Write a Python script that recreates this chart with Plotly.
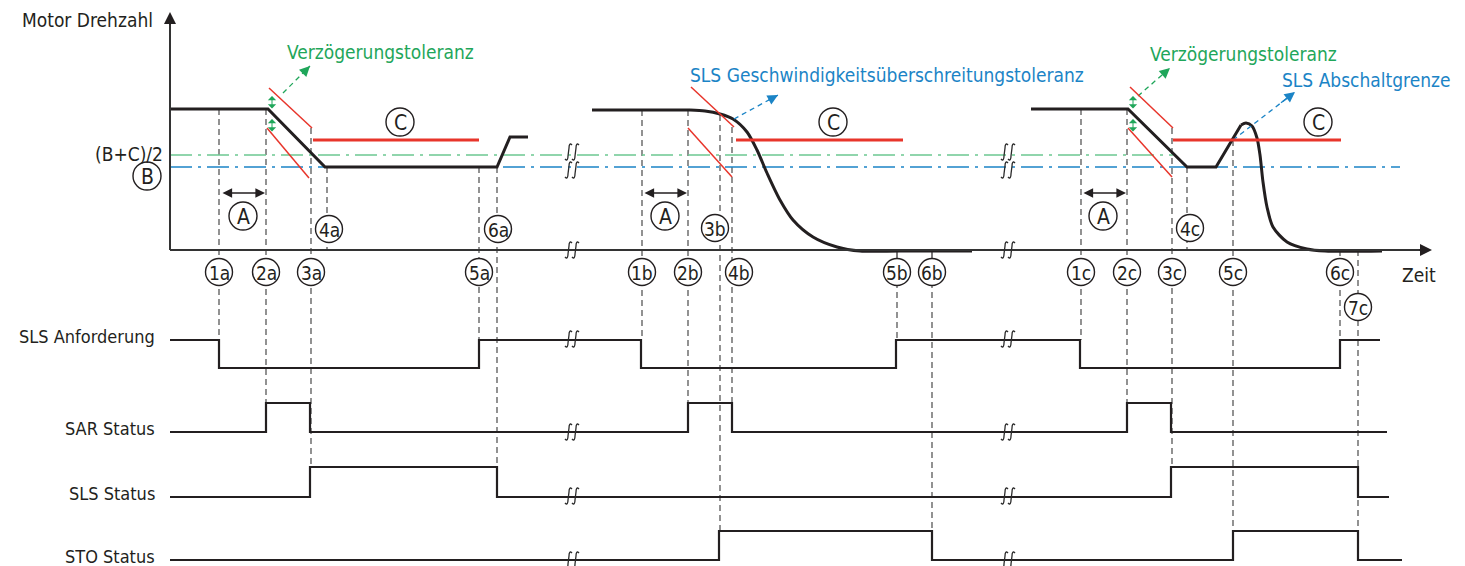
import plotly.graph_objects as go

FONT = "DejaVu Sans Condensed, Liberation Sans Narrow, sans-serif"
BLACK = "#231f20"
RED = "#e8352b"
GREEN = "#1fa65a"
GREEN_LINE = "#6cc891"
BLUE = "#1b84c6"
DASH_GRAY = "#4a4a4a"

# ---- time axis (schematic units) ----
x_axis_start, x_axis_end = 170, 1432
y_axis_top = 12
zero_row = 250
break_x = [572, 1008]

# ---- speed levels ----
level_bc = 155      # (B+C)/2
level_b = 167       # B
level_c = 140       # C (SLS limit)

# ---- speed curves ----
speed_a_t = [170, 268, 325, 497, 510, 528]
speed_a_v = [109, 109, 167, 167, 137, 137]

speed_b_flat_t = [592, 690]
speed_b_flat_v = [110, 110]
speed_b_t = [690, 705, 720, 733, 747, 757, 767, 780, 793, 813, 837, 860, 900, 972]
speed_b_v = [110, 111, 114, 119, 132, 150, 173, 200, 220, 237, 247, 251, 251, 251]

speed_c_t = [1031, 1128, 1187, 1216, 1241]
speed_c_v = [109, 109, 167, 167, 125]
speed_c_drop_t = [1241, 1246, 1252, 1257, 1260, 1263, 1267, 1273, 1287, 1307, 1325, 1382]
speed_c_drop_v = [125, 123, 126, 138, 155, 182, 207, 227, 242, 249, 251, 251]

# C limit segments (start, end)
c_limit_a = [313, 479]
c_limit_b = [736, 903]
c_limit_c = [1173, 1341]

# deceleration tolerance bands: (t0, v0, t1, v1)
tol_a = [(269, 88, 312, 128), (267, 128, 309, 178)]
tol_b = [(691, 87, 734, 127), (688, 128, 732, 177)]
tol_c = [(1130, 87, 1173, 128), (1128, 128, 1172, 177)]

# ---- events ----
event_labels = ["1a", "2a", "3a", "4a", "5a", "6a",
                "1b", "2b", "3b", "4b", "5b", "6b",
                "1c", "2c", "3c", "4c", "5c", "6c", "7c"]
event_t = [219, 266, 311, 327, 479, 497,
           642, 688, 720, 732, 897, 932,
           1081, 1127, 1172, 1187, 1233, 1340, 1358]
event_top = [109, 109, 128, 167, 167, 167,
             110, 110, 115, 127, 262, 262,
             109, 109, 128, 167, 140, 250, 250]
event_bottom = [340, 403, 467, 250, 340, 467,
                340, 403, 531, 403, 340, 531,
                340, 403, 467, 250, 531, 340, 531]
label_t = [219, 266, 311, 329, 479, 498,
           642, 688, 715, 739, 897, 932,
           1081, 1127, 1172, 1190, 1233, 1340, 1358]
label_row = [272, 272, 272, 229, 272, 229,
             272, 272, 228, 272, 272, 272,
             272, 272, 272, 228, 272, 272, 307]

# ---- signals ----
signal_names = ["SLS Anforderung", "SAR Status", "SLS Status", "STO Status"]
signal_low_row = [368, 432, 497, 560]
signal_height = [28, 29, 30, 29]
sls_req_t = [170, 219, 479, 641, 896, 1080, 1340, 1380]
sls_req_v = [1, 0, 1, 0, 1, 0, 1, 1]
sar_t = [170, 266, 310, 688, 732, 1127, 1171, 1387]
sar_v = [0, 1, 0, 1, 0, 1, 0, 0]
sls_t = [170, 310, 497, 1171, 1358, 1389]
sls_v = [0, 1, 0, 1, 0, 0]
sto_t = [170, 719, 932, 1233, 1358, 1402]
sto_v = [0, 1, 0, 1, 0, 0]
signals_t = [sls_req_t, sar_t, sls_t, sto_t]
signals_v = [sls_req_v, sar_v, sls_v, sto_v]

fig = go.Figure()
shapes = []
annotations = []


def line(x0, y0, x1, y1, color, width, dash="solid", layer="above"):
    shapes.append(dict(type="line", x0=x0, y0=y0, x1=x1, y1=y1, xref="x", yref="y",
                       line=dict(color=color, width=width, dash=dash), layer=layer))


def arrow(x, y, ax, ay, color, width=1.5, size=1.2, head=2, both=False):
    annotations.append(dict(x=x, y=y, ax=ax, ay=ay, xref="x", yref="y", axref="x", ayref="y",
                            text="", showarrow=True, arrowhead=head, startarrowhead=head,
                            arrowside="end+start" if both else "end",
                            arrowsize=size, startarrowsize=size,
                            arrowwidth=width, arrowcolor=color))


def text(x, y, s, color=BLACK, size=19, anchor="center"):
    annotations.append(dict(x=x, y=y, xref="x", yref="y", text=s, showarrow=False,
                            xanchor=anchor, yanchor="middle",
                            font=dict(family=FONT, size=size, color=color)))


def circled(x, y, s, r=13.5, size=19):
    shapes.append(dict(type="circle", x0=x - r, x1=x + r, y0=y - r, y1=y + r,
                       xref="x", yref="y", fillcolor="white",
                       line=dict(color=BLACK, width=1.4), layer="above"))
    text(x, y + 0.5, s, size=size)


def break_mark(x, y, h=8):
    for dx in (-3.5, 3.5):
        cx = x + dx
        p = (f"M {cx + 3.5},{y - h + 1} C {cx + 1.5},{y - h - 1.5} {cx + 0.5},{y - h + 1} {cx + 0.5},{y - h + 4} "
             f"L {cx - 0.5},{y + h - 4} C {cx - 0.5},{y + h - 1} {cx - 1.5},{y + h + 1.5} {cx - 3.5},{y + h - 1}")
        shapes.append(dict(type="path", path=p, xref="x", yref="y",
                           line=dict(color="#2a2a2a", width=1.3), layer="above"))


# dash-dot reference lines
fig.add_trace(go.Scatter(x=[x_axis_start, 1173], y=[level_bc, level_bc], mode="lines",
                         line=dict(color=GREEN_LINE, width=1.5, dash="22px,6px,3px,6px")))
fig.add_trace(go.Scatter(x=[x_axis_start, 1400], y=[level_b, level_b], mode="lines",
                         line=dict(color=BLUE, width=1.3, dash="22px,6px,3px,6px")))

# event dashed verticals
for t, y0, y1 in zip(event_t, event_top, event_bottom):
    line(t, y0, t, y1, DASH_GRAY, 1.2, dash="6px,4px", layer="below")
for t in (897, 932):
    line(t, zero_row, t, 262, BLACK, 1.2)

# axes
line(x_axis_start, zero_row, x_axis_end - 8, zero_row, "#333333", 2)
line(x_axis_start, zero_row, x_axis_start, y_axis_top + 8, "#333333", 2)
arrow(x_axis_end, zero_row, x_axis_end - 14, zero_row, BLACK, width=2, size=1.2)
arrow(x_axis_start, y_axis_top, x_axis_start, y_axis_top + 14, BLACK, width=2, size=1.2)

# tolerance lines
for band in (tol_a, tol_b, tol_c):
    for t0, v0, t1, v1 in band:
        line(t0, v0, t1, v1, RED, 1.5)
for c0, c1 in (c_limit_a, c_limit_b, c_limit_c):
    line(c0, level_c, c1, level_c, RED, 3)

# speed curves
for tx, vy, shp in ((speed_a_t, speed_a_v, "linear"),
                    (speed_b_flat_t, speed_b_flat_v, "linear"),
                    (speed_b_t, speed_b_v, "spline"),
                    (speed_c_t, speed_c_v, "linear"),
                    (speed_c_drop_t, speed_c_drop_v, "spline")):
    fig.add_trace(go.Scatter(x=tx, y=vy, mode="lines",
                             line=dict(color=BLACK, width=3, shape=shp, smoothing=0.8)))

# signals
for name, low, hgt, tx, vy in zip(signal_names, signal_low_row, signal_height, signals_t, signals_v):
    rows = [low - v * hgt for v in vy]
    fig.add_trace(go.Scatter(x=tx, y=rows, mode="lines",
                             line=dict(color=BLACK, width=2.2, shape="hv")))
    text(157, rows[0] - 4, name, size=18, anchor="right")

# break marks on axis, reference lines and signals
break_rows = [zero_row, level_bc - 3, level_b + 3, 339, 432, 496, 560]
for bx in break_x:
    for r in break_rows:
        break_mark(bx, r)

# green delay-tolerance arrows
for gx in (272, 1133):
    arrow(gx, 96, gx, 110, GREEN, width=1, size=1.4, head=1, both=True)
    arrow(gx, 119, gx, 133, GREEN, width=1, size=1.4, head=1, both=True)
for x0, y0, x1, y1, col in ((283, 93, 310, 66, GREEN), (1138, 96, 1170, 68, GREEN),
                            (734, 119, 778, 95, BLUE), (1233, 140, 1295, 92, BLUE)):
    fig.add_trace(go.Scatter(x=[x0, x1], y=[y0, y1], mode="lines",
                             line=dict(color=col, width=1.3, dash="5px,4px")))
    arrow(x1, y1, x1 - (x1 - x0) * 0.25, y1 - (y1 - y0) * 0.25, col, width=1.3, size=1.6)

# A spans
for a0, a1, ax in ((221, 265, 243), (643, 687, 665), (1082, 1126, 1103)):
    arrow(a1, 193, a0, 193, BLACK, width=1.6, size=1.2, both=True)
    circled(ax, 216, "A", r=14, size=21)

# C markers and B marker
for cx in (400, 833, 1318):
    circled(cx, 122, "C", r=14, size=21)
circled(147, 176, "B", r=14, size=21)

# event labels
for lbl, t, r in zip(event_labels, label_t, label_row):
    circled(t, r, lbl)

# titles / texts
text(155, 20, "Motor Drehzahl", anchor="right")
text(165, 154, "(B+C)/2", anchor="right")
text(1400, 275, "Zeit", anchor="left")
text(285, 52, "Verzögerungstoleranz", color=GREEN, anchor="left")
text(688, 75, "SLS Geschwindigkeitsüberschreitungstoleranz", color=BLUE, anchor="left")
text(1148, 54, "Verzögerungstoleranz", color=GREEN, anchor="left")
text(1280, 80, "SLS Abschaltgrenze", color=BLUE, anchor="left")

fig.update_layout(
    width=1465, height=566,
    margin=dict(l=0, r=0, t=0, b=0),
    paper_bgcolor="white", plot_bgcolor="white",
    showlegend=False,
    xaxis=dict(range=[0, 1465], visible=False, fixedrange=True),
    yaxis=dict(range=[566, 0], visible=False, fixedrange=True),
    shapes=shapes, annotations=annotations,
)

fig.write_html("out.html", config={"displayModeBar": False},
               post_script="document.body.style.margin='0';")
